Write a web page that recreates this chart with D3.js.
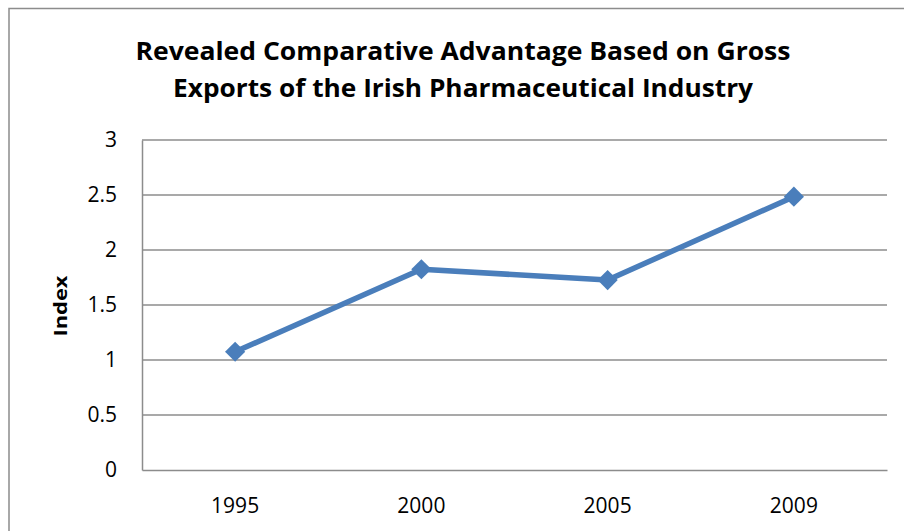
<!DOCTYPE html>
<html>
<head>
<meta charset="utf-8">
<script src="https://cdn.jsdelivr.net/npm/d3@7"></script>
<style>
  body { margin: 0; background: #fff; }
  text { font-family: "Open Sans", sans-serif; }
</style>
</head>
<body>
<div id="chart"></div>
<script>
var years = ["1995", "2000", "2005", "2009"];
var index = [1.075, 1.825, 1.727, 2.485];
var yTicks = [0, 0.5, 1, 1.5, 2, 2.5, 3];
var titleLines = ["Revealed Comparative Advantage Based on Gross",
                  "Exports of the Irish Pharmaceutical Industry"];

var svgWidth = 904;
var svgHeight = 531;

var margin = { top: 140, right: 17, bottom: 61, left: 142 };
var width = svgWidth - margin.left - margin.right;
var height = svgHeight - margin.top - margin.bottom;

var svg = d3.select("#chart")
  .append("svg")
  .attr("width", svgWidth)
  .attr("height", svgHeight);

// outer chart border (runs off the right and bottom edge)
svg.append("rect")
  .attr("x", 9).attr("y", 8.5)
  .attr("width", 920).attr("height", 560)
  .attr("fill", "none")
  .attr("stroke", "#8c8c8c")
  .attr("stroke-width", 1.5);

// title
var titleWidths = [655, 580];
var titleBase = [59.5, 97];
titleLines.forEach(function(t, i) {
  svg.append("text")
    .attr("x", 463)
    .attr("y", titleBase[i])
    .attr("text-anchor", "middle")
    .attr("font-size", "25px")
    .attr("font-weight", "bold")
    .attr("fill", "#000")
    .attr("textLength", titleWidths[i])
    .attr("lengthAdjust", "spacingAndGlyphs")
    .text(t);
});

var chartGroup = svg.append("g")
  .attr("transform", `translate(${margin.left}, ${margin.top})`);

var xScale = d3.scaleBand()
  .domain(years)
  .range([0, width]);

var yScale = d3.scaleLinear()
  .domain([0, 3])
  .range([height, 0]);

// gridlines
chartGroup.append("g")
  .selectAll("line")
  .data(yTicks.filter(d => d > 0))
  .enter()
  .append("line")
  .attr("x1", 0).attr("x2", width)
  .attr("y1", d => yScale(d)).attr("y2", d => yScale(d))
  .attr("stroke", "#8c8c8c")
  .attr("stroke-width", 1.5);

// axes
var leftAxis = d3.axisLeft(yScale)
  .tickValues(yTicks)
  .tickSize(0)
  .tickPadding(25)
  .tickFormat(d => d);

var yAxisG = chartGroup.append("g").call(leftAxis);
yAxisG.attr("font-family", null).attr("font-size", null);
yAxisG.select(".domain").attr("stroke", "#8c8c8c").attr("stroke-width", 1.5);
yAxisG.selectAll("text")
  .attr("font-size", "21px")
  .attr("fill", "#000");

var bottomAxis = d3.axisBottom(xScale)
  .tickSize(0)
  .tickPadding(28);

var xAxisG = chartGroup.append("g")
  .attr("transform", `translate(0, ${height})`)
  .call(bottomAxis);
xAxisG.attr("font-family", null).attr("font-size", null);
xAxisG.select(".domain").attr("stroke", "#8c8c8c").attr("stroke-width", 1.5);
xAxisG.selectAll("text")
  .attr("font-size", "21px")
  .attr("fill", "#000");

// y label
svg.append("text")
  .attr("transform", "translate(67, 306) rotate(-90)")
  .attr("text-anchor", "middle")
  .attr("font-size", "18px")
  .attr("font-weight", "bold")
  .attr("fill", "#000")
  .attr("textLength", 61)
  .attr("lengthAdjust", "spacingAndGlyphs")
  .text("Index");

// line
var line = d3.line()
  .x((d, i) => xScale(years[i]) + xScale.bandwidth() / 2)
  .y(d => yScale(d));

chartGroup.append("path")
  .datum(index)
  .attr("d", line)
  .attr("fill", "none")
  .attr("stroke", "#4a7ebb")
  .attr("stroke-width", 5.5)
  .attr("stroke-linejoin", "round");

// diamond markers
chartGroup.selectAll(".marker")
  .data(index)
  .enter()
  .append("path")
  .attr("class", "marker")
  .attr("d", d3.symbol().type(d3.symbolDiamond2).size(260))
  .attr("transform", (d, i) => `translate(${xScale(years[i]) + xScale.bandwidth() / 2}, ${yScale(d)})`)
  .attr("fill", "#4a7ebb");
</script>
</body>
</html>
